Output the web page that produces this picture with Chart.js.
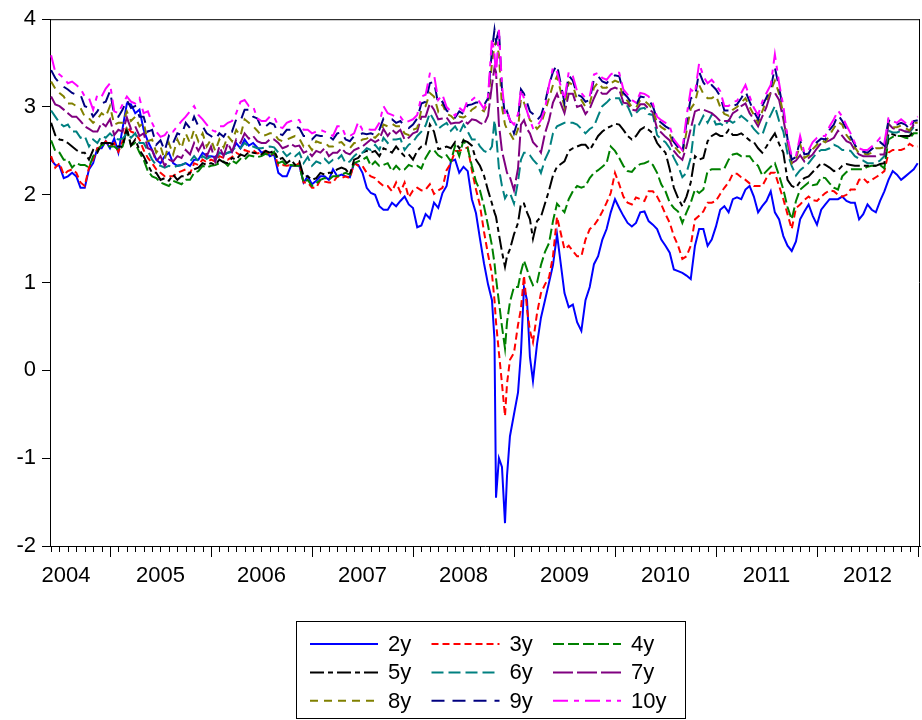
<!DOCTYPE html>
<html><head><meta charset="utf-8">
<script src="https://cdn.jsdelivr.net/npm/chart.js@4.4.1/dist/chart.umd.min.js"></script>
<style>html,body{margin:0;padding:0;background:#fff}#wrap{width:922px;height:720px}</style>
</head><body><div id="wrap"><canvas id="c" width="922" height="720"></canvas></div>
<script>
// ---------- DATA (decimal years, yields in %) ----------
const dates = [
2004.417,2004.458,2004.5,2004.542,2004.583,2004.625,2004.667,2004.708,2004.75,2004.792,2004.833,2004.875,2004.917,2004.958,
2005,2005.042,2005.083,2005.125,2005.167,2005.208,2005.25,2005.292,2005.333,2005.375,2005.417,2005.458,2005.5,2005.542,2005.583,2005.625,2005.667,2005.708,2005.75,2005.792,2005.833,2005.875,2005.917,2005.958,
2006,2006.042,2006.083,2006.125,2006.167,2006.208,2006.25,2006.292,2006.333,2006.375,2006.417,2006.458,2006.5,2006.542,2006.583,2006.625,2006.667,2006.708,2006.75,2006.792,2006.833,2006.875,2006.917,2006.958,
2007,2007.042,2007.083,2007.125,2007.167,2007.208,2007.25,2007.292,2007.333,2007.375,2007.417,2007.458,2007.5,2007.542,2007.583,2007.625,2007.667,2007.708,2007.75,2007.792,2007.833,2007.875,2007.917,2007.958,
2008,2008.042,2008.083,2008.125,2008.167,2008.208,2008.25,2008.292,2008.333,2008.375,2008.417,2008.458,2008.5,2008.542,
2008.583,
2008.624,2008.663,2008.703,2008.743,2008.782,2008.807,2008.822,2008.851,2008.881,2008.911,
2008.931,2008.96,2009,2009.04,2009.069,2009.099,2009.129,2009.158,2009.188,2009.228,
2009.267,2009.307,2009.347,2009.386,2009.426,
2009.5,2009.542,2009.583,2009.625,2009.667,2009.708,2009.75,2009.792,2009.833,2009.875,2009.917,2009.958,
2010,2010.042,2010.083,2010.125,2010.167,2010.208,2010.25,2010.292,2010.333,2010.375,2010.417,2010.458,2010.5,2010.542,2010.583,2010.625,2010.667,2010.708,2010.75,2010.792,2010.833,2010.875,2010.917,2010.958,
2011,2011.042,2011.083,2011.125,2011.167,2011.208,2011.25,2011.292,2011.333,2011.375,2011.417,2011.458,2011.5,2011.542,2011.583,2011.625,2011.667,2011.708,2011.75,2011.792,2011.833,2011.875,2011.917,2011.958,
2012,2012.042,2012.083,2012.125,2012.167,2012.208,2012.25,2012.292,2012.333,2012.375,2012.417,2012.458,2012.5,2012.542,2012.583,2012.625,2012.667,2012.708,2012.75,2012.792,2012.833,2012.875,2012.917,2012.958,
2012.997];

const y2 = [
2.40,2.34,2.33,2.19,2.21,2.25,2.21,2.08,2.08,2.29,2.36,2.53,2.53,2.61,2.53,2.64,2.48,2.76,3.04,3.03,
2.93,2.97,2.74,2.61,2.51,2.40,2.36,2.44,2.48,2.36,2.33,2.34,2.36,2.33,2.40,2.40,2.48,2.44,2.44,2.43,
2.48,2.46,2.48,2.49,2.59,2.53,2.63,2.56,2.59,2.54,2.48,2.50,2.44,2.46,2.25,2.21,2.21,2.33,2.33,2.33,
2.14,2.21,2.12,2.16,2.21,2.21,2.17,2.29,2.21,2.23,2.21,2.20,2.36,2.34,2.25,2.08,2.02,2.00,1.87,1.83,
1.83,1.91,1.87,1.93,1.98,1.89,1.85,1.63,1.65,1.78,1.73,1.91,1.85,2.02,2.10,2.38,2.40,2.25,2.32,2.27,
1.95,1.79,1.50,1.22,0.98,0.80,0.35,-1.45,-1.00,-1.10,-1.74,-1.20,-0.75,-0.50,-0.25,0.20,0.95,0.80,0.15,-0.12,0.30,0.60,0.80,1.00,1.20,1.55,
0.88,0.72,0.75,0.55,0.45,0.80,0.95,1.21,1.30,1.49,1.61,1.80,
1.95,1.85,1.76,1.68,1.64,1.68,1.80,1.81,1.70,1.66,1.61,1.49,1.42,1.34,1.15,1.13,1.11,1.08,1.04,1.42,1.61,1.61,1.42,1.49,
1.64,1.83,1.87,1.80,1.95,1.97,1.95,2.06,2.10,1.98,1.80,1.87,1.93,2.04,1.80,1.72,1.53,1.42,1.36,1.47,1.72,1.81,1.89,1.76,
1.66,1.83,1.89,1.95,1.95,1.95,1.98,1.93,1.91,1.91,1.72,1.78,1.89,1.83,1.80,1.93,2.04,2.17,2.27,2.23,2.17,2.21,2.25,2.29,
2.36];

const y3 = [
2.44,2.31,2.36,2.23,2.27,2.29,2.25,2.14,2.10,2.31,2.40,2.53,2.55,2.61,2.55,2.59,2.49,2.61,2.78,2.72,
2.70,2.63,2.51,2.42,2.36,2.29,2.25,2.21,2.21,2.21,2.25,2.27,2.29,2.24,2.36,2.34,2.40,2.37,2.40,2.38,
2.44,2.42,2.40,2.43,2.48,2.45,2.51,2.49,2.51,2.47,2.48,2.50,2.44,2.48,2.33,2.34,2.33,2.34,2.33,2.36,
2.14,2.14,2.08,2.08,2.17,2.15,2.14,2.14,2.21,2.19,2.21,2.19,2.36,2.33,2.33,2.25,2.21,2.19,2.14,2.10,
2.10,2.04,2.14,2.03,2.14,1.97,2.05,2.08,2.05,2.06,2.12,2.01,2.05,2.08,2.28,2.36,2.50,2.50,2.52,2.54,
2.28,2.06,1.88,1.58,1.32,1.10,0.80,0.55,0.20,-0.15,-0.52,-0.15,0.12,0.20,0.52,0.70,1.08,0.70,0.45,0.32,0.65,0.88,0.98,1.06,1.30,1.75,
1.38,1.42,1.36,1.30,1.30,1.49,1.61,1.65,1.72,1.81,1.91,2.02,
2.25,2.12,1.98,1.91,1.89,1.97,1.95,1.93,2.04,2.04,1.98,1.89,1.78,1.68,1.53,1.42,1.27,1.30,1.42,1.72,1.76,1.81,1.91,1.91,
1.93,2.01,2.08,2.14,2.24,2.24,2.20,2.17,2.13,2.10,2.10,2.10,2.19,2.25,2.25,2.10,1.95,1.78,1.61,1.85,1.89,1.94,1.98,1.94,
1.93,1.98,2.02,2.05,2.04,2.00,1.98,2.00,2.06,2.06,2.17,2.19,2.14,2.17,2.20,2.23,2.27,2.48,2.51,2.51,2.51,2.53,2.58,2.55,
2.55];

const y4 = [
2.62,2.50,2.48,2.40,2.40,2.31,2.36,2.34,2.34,2.31,2.44,2.50,2.57,2.56,2.55,2.55,2.51,2.55,2.74,2.56,
2.59,2.48,2.40,2.27,2.21,2.19,2.14,2.12,2.10,2.16,2.14,2.12,2.17,2.17,2.25,2.27,2.33,2.31,2.33,2.34,
2.36,2.38,2.33,2.39,2.36,2.41,2.40,2.45,2.44,2.43,2.44,2.47,2.44,2.49,2.36,2.38,2.33,2.34,2.33,2.33,
2.14,2.17,2.10,2.13,2.17,2.19,2.17,2.21,2.21,2.23,2.25,2.23,2.36,2.38,2.40,2.43,2.33,2.38,2.33,2.34,
2.36,2.27,2.33,2.28,2.29,2.34,2.32,2.33,2.30,2.42,2.50,2.51,2.45,2.42,2.45,2.38,2.56,2.44,2.62,2.53,
2.33,2.15,2.05,1.87,1.65,1.42,1.22,1.05,0.78,0.50,0.25,0.55,0.78,0.95,0.95,1.12,1.25,1.15,1.05,0.97,1.00,1.20,1.35,1.45,1.70,1.90,
1.80,1.95,2.04,2.10,2.08,2.10,2.19,2.25,2.28,2.32,2.36,2.55,
2.50,2.42,2.33,2.27,2.26,2.32,2.35,2.36,2.38,2.34,2.25,2.12,2.04,1.91,1.85,1.81,1.68,1.80,1.91,2.06,2.02,2.06,2.27,2.29,
2.29,2.29,2.30,2.40,2.46,2.47,2.44,2.44,2.44,2.37,2.33,2.22,2.27,2.32,2.36,2.22,2.06,1.86,1.72,1.93,2.06,2.10,2.14,2.11,
2.12,2.20,2.19,2.13,2.08,2.06,2.21,2.26,2.29,2.29,2.29,2.29,2.32,2.33,2.33,2.34,2.30,2.63,2.66,2.67,2.67,2.65,2.64,2.70,
2.70];

const y5 = [
2.82,2.68,2.63,2.62,2.59,2.55,2.51,2.48,2.48,2.40,2.51,2.48,2.59,2.59,2.59,2.57,2.55,2.55,2.76,2.56,
2.63,2.51,2.44,2.34,2.25,2.25,2.17,2.19,2.16,2.23,2.17,2.21,2.21,2.25,2.29,2.31,2.36,2.34,2.36,2.34,
2.40,2.37,2.36,2.42,2.40,2.46,2.44,2.49,2.48,2.47,2.46,2.50,2.48,2.50,2.40,2.42,2.36,2.40,2.34,2.38,
2.21,2.21,2.17,2.19,2.25,2.23,2.25,2.25,2.29,2.31,2.29,2.23,2.40,2.42,2.48,2.50,2.48,2.50,2.44,2.53,
2.51,2.48,2.55,2.49,2.44,2.46,2.40,2.50,2.55,2.57,2.80,2.72,2.52,2.53,2.55,2.53,2.60,2.53,2.62,2.60,
2.56,2.40,2.33,2.22,2.05,1.90,1.80,1.75,1.55,1.35,1.18,1.30,1.38,1.55,1.68,1.90,1.90,1.80,1.72,1.50,1.70,1.75,1.90,2.05,2.22,2.32,
2.38,2.50,2.53,2.55,2.57,2.57,2.51,2.59,2.67,2.72,2.76,2.78,
2.81,2.80,2.74,2.67,2.63,2.67,2.74,2.77,2.74,2.70,2.59,2.53,2.48,2.29,2.08,1.96,1.87,1.98,2.14,2.44,2.40,2.42,2.61,2.67,
2.70,2.67,2.67,2.74,2.68,2.68,2.70,2.66,2.62,2.60,2.53,2.48,2.55,2.63,2.70,2.58,2.48,2.17,2.10,2.08,2.15,2.19,2.21,2.26,
2.31,2.36,2.34,2.31,2.27,2.28,2.33,2.35,2.34,2.33,2.33,2.33,2.33,2.33,2.33,2.35,2.36,2.70,2.69,2.67,2.67,2.67,2.67,2.73,
2.74];

const y6 = [
2.96,2.89,2.82,2.78,2.80,2.72,2.72,2.65,2.67,2.55,2.63,2.59,2.67,2.65,2.70,2.65,2.63,2.64,2.70,2.65,
2.70,2.59,2.59,2.50,2.40,2.34,2.33,2.31,2.33,2.31,2.33,2.34,2.36,2.38,2.44,2.38,2.44,2.41,2.44,2.39,
2.48,2.45,2.48,2.50,2.55,2.53,2.59,2.55,2.55,2.53,2.53,2.54,2.55,2.54,2.48,2.50,2.44,2.48,2.44,2.48,
2.36,2.43,2.33,2.38,2.36,2.41,2.36,2.40,2.40,2.45,2.36,2.38,2.44,2.48,2.48,2.53,2.51,2.57,2.51,2.65,
2.59,2.63,2.63,2.64,2.51,2.57,2.60,2.67,2.72,2.79,2.93,2.85,2.75,2.79,2.82,2.73,2.78,2.70,2.80,2.72,
2.63,2.63,2.55,2.50,2.48,2.55,2.85,2.70,2.30,2.10,1.96,2.00,2.02,1.90,2.15,2.40,2.48,2.48,2.45,2.40,2.35,2.25,2.40,2.50,2.70,2.78,
2.82,2.82,2.82,2.80,2.75,2.70,2.75,2.78,2.90,3.01,3.05,3.10,
3.10,3.10,3.00,3.01,2.90,2.93,2.98,2.99,2.92,2.91,2.68,2.63,2.60,2.53,2.42,2.33,2.20,2.25,2.42,2.82,2.80,2.90,2.82,2.91,
2.80,2.81,2.78,2.85,2.82,2.85,2.90,2.86,2.82,2.75,2.70,2.68,2.82,2.91,3.01,2.84,2.72,2.47,2.33,2.22,2.28,2.32,2.36,2.42,
2.48,2.51,2.51,2.53,2.57,2.55,2.51,2.51,2.50,2.44,2.41,2.39,2.36,2.36,2.36,2.39,2.44,2.73,2.71,2.71,2.73,2.72,2.71,2.77,
2.78];

const y7 = [
3.12,3.03,3.01,2.97,2.93,2.89,2.89,2.84,2.78,2.75,2.72,2.72,2.82,2.78,2.86,2.68,2.74,2.72,2.88,2.75,
2.78,2.67,2.70,2.53,2.51,2.38,2.44,2.33,2.40,2.38,2.44,2.42,2.51,2.46,2.59,2.50,2.59,2.44,2.55,2.38,
2.55,2.44,2.59,2.49,2.63,2.59,2.70,2.64,2.67,2.61,2.59,2.59,2.63,2.63,2.59,2.53,2.55,2.58,2.55,2.56,
2.48,2.50,2.44,2.50,2.48,2.53,2.44,2.48,2.48,2.53,2.48,2.46,2.51,2.53,2.55,2.59,2.63,2.60,2.63,2.75,
2.67,2.74,2.70,2.74,2.63,2.65,2.70,2.72,2.89,2.89,3.04,2.97,2.86,2.87,2.88,2.81,2.82,2.82,2.85,2.81,
2.86,2.85,2.82,2.80,2.90,3.25,3.45,3.40,2.80,2.50,2.35,2.25,2.20,2.05,2.30,2.80,2.85,2.75,2.70,2.60,2.55,2.48,2.70,2.85,3.05,3.15,
2.93,3.15,3.15,3.00,3.02,2.92,2.98,3.10,3.20,3.15,3.15,3.20,
3.22,3.20,3.05,3.04,2.97,2.96,3.03,3.03,2.98,2.94,2.75,2.71,2.66,2.62,2.50,2.44,2.40,2.55,2.75,2.95,2.97,2.97,2.95,2.93,
2.89,2.84,2.84,2.84,2.93,2.96,3.01,3.04,2.93,2.86,2.78,2.89,3.00,3.16,3.16,3.08,2.86,2.61,2.36,2.39,2.45,2.38,2.42,2.46,
2.53,2.59,2.60,2.62,2.65,2.73,2.67,2.61,2.59,2.51,2.46,2.44,2.44,2.44,2.44,2.46,2.46,2.81,2.76,2.74,2.74,2.72,2.72,2.80,
2.82];

const y8 = [
3.29,3.21,3.16,3.12,3.04,3.04,3.01,2.99,2.89,2.87,2.82,2.86,2.93,2.89,3.01,2.80,2.82,2.82,2.95,2.84,
2.89,2.78,2.82,2.61,2.63,2.48,2.55,2.40,2.59,2.46,2.63,2.53,2.70,2.59,2.74,2.61,2.70,2.55,2.63,2.50,
2.63,2.54,2.67,2.61,2.74,2.67,2.86,2.82,2.78,2.73,2.67,2.68,2.70,2.70,2.63,2.61,2.63,2.65,2.67,2.64,
2.55,2.58,2.51,2.61,2.59,2.60,2.55,2.55,2.59,2.60,2.55,2.53,2.59,2.59,2.63,2.64,2.67,2.65,2.70,2.80,
2.78,2.81,2.78,2.78,2.70,2.68,2.74,2.76,2.97,3.01,3.16,3.12,2.95,3.03,2.92,2.90,2.85,2.89,2.88,2.91,
2.97,3.00,2.98,2.95,3.05,3.50,3.70,3.75,3.60,3.00,2.80,2.75,2.70,2.62,2.75,3.10,3.05,2.95,2.85,2.82,2.75,2.80,2.95,3.10,3.25,3.35,
3.00,3.28,3.25,3.08,3.08,3.00,3.04,3.22,3.28,3.22,3.22,3.27,
3.30,3.28,3.10,3.07,3.00,2.99,3.08,3.07,3.03,2.97,2.82,2.77,2.74,2.69,2.56,2.50,2.45,2.72,2.98,3.05,3.25,3.15,3.10,3.10,
3.13,3.00,2.92,2.90,2.97,3.00,3.05,3.10,3.00,2.91,2.82,2.95,3.07,3.18,3.30,3.15,2.92,2.62,2.36,2.41,2.58,2.42,2.45,2.52,
2.57,2.62,2.60,2.68,2.76,2.83,2.80,2.68,2.62,2.54,2.47,2.47,2.46,2.48,2.53,2.53,2.54,2.83,2.77,2.77,2.79,2.76,2.73,2.82,
2.82];

const y9 = [
3.42,3.33,3.27,3.23,3.20,3.16,3.14,3.14,3.01,2.99,2.89,2.95,3.04,3.06,3.18,2.91,2.89,2.97,3.08,2.99,
3.01,2.89,2.89,2.72,2.74,2.57,2.62,2.50,2.67,2.59,2.70,2.68,2.82,2.76,2.89,2.78,2.78,2.70,2.67,2.63,
2.70,2.66,2.74,2.72,2.86,2.84,2.97,2.97,2.89,2.87,2.76,2.78,2.82,2.80,2.70,2.68,2.74,2.74,2.78,2.76,
2.67,2.67,2.63,2.68,2.67,2.67,2.67,2.63,2.70,2.71,2.63,2.61,2.67,2.68,2.70,2.69,2.70,2.68,2.74,2.87,
2.86,2.86,2.82,2.84,2.78,2.76,2.80,2.87,3.04,3.06,3.27,3.29,3.03,3.06,2.96,2.92,2.88,2.95,2.92,3.02,
3.03,3.05,3.05,3.02,3.10,3.65,3.88,3.75,3.88,3.20,2.90,2.95,2.85,2.70,2.85,3.20,3.15,3.05,2.95,2.92,2.85,2.90,3.05,3.25,3.40,3.48,
3.05,3.36,3.30,3.14,3.12,3.06,3.08,3.32,3.35,3.29,3.27,3.33,
3.36,3.35,3.16,3.11,3.04,3.02,3.12,3.11,3.08,3.01,2.86,2.82,2.78,2.75,2.60,2.54,2.48,2.82,3.10,3.12,3.40,3.28,3.22,3.25,
3.20,3.12,2.96,2.96,3.01,3.03,3.10,3.18,3.06,2.95,2.86,3.01,3.11,3.21,3.45,3.22,2.96,2.64,2.40,2.43,2.62,2.46,2.47,2.56,
2.60,2.64,2.63,2.74,2.80,2.91,2.84,2.75,2.66,2.57,2.50,2.49,2.48,2.52,2.56,2.60,2.56,2.85,2.80,2.80,2.82,2.80,2.75,2.84,
2.85];

const y10 = [
3.59,3.40,3.37,3.33,3.27,3.29,3.25,3.21,3.12,3.10,2.97,3.14,3.12,3.21,3.27,2.95,2.93,3.03,3.12,3.06,
3.04,3.10,2.93,2.95,2.82,2.72,2.66,2.68,2.74,2.72,2.78,2.84,2.89,2.95,3.01,2.91,2.86,2.80,2.74,2.72,
2.78,2.78,2.82,2.84,2.93,3.06,3.08,3.01,3.01,2.87,2.84,2.84,2.89,2.89,2.78,2.76,2.82,2.84,2.86,2.85,
2.74,2.74,2.70,2.72,2.74,2.72,2.70,2.67,2.78,2.78,2.67,2.67,2.70,2.83,2.74,2.75,2.74,2.74,2.82,3.01,
2.93,2.91,2.89,2.89,2.82,2.84,2.86,2.91,3.12,3.14,3.38,3.37,3.08,3.14,3.00,2.95,2.90,2.99,2.95,3.08,
3.08,3.12,3.05,2.98,3.12,3.78,3.60,3.35,3.88,3.25,2.92,2.95,2.85,2.80,2.92,3.20,3.10,2.95,2.85,2.76,2.78,2.85,2.98,3.25,3.45,3.40,
3.08,3.40,3.35,3.18,3.16,3.10,3.12,3.37,3.39,3.33,3.31,3.37,
3.40,3.39,3.20,3.14,3.08,3.05,3.16,3.15,3.12,3.04,2.89,2.85,2.82,2.78,2.63,2.57,2.51,2.89,3.20,3.16,3.50,3.35,3.27,3.31,
3.25,3.18,3.01,3.01,3.06,3.07,3.16,3.25,3.12,2.99,2.91,3.06,3.16,3.25,3.60,3.27,3.01,2.65,2.44,2.44,2.67,2.48,2.51,2.60,
2.65,2.67,2.67,2.78,2.86,2.96,2.89,2.79,2.70,2.59,2.53,2.51,2.51,2.55,2.59,2.65,2.59,2.87,2.84,2.82,2.86,2.82,2.78,2.86,
2.89];

const seriesLabels = ['2y','3y','4y','5y','6y','7y','8y','9y','10y'];
const yearLabels = [2004,2005,2006,2007,2008,2009,2010,2011,2012];
const yTickValues = [-2,-1,0,1,2,3,4];

// ---------- STYLE ----------
const FONT = '"Liberation Sans", Arial, sans-serif';
const colors = ['#0000FF','#FF0000','#008000','#000000','#008080','#800080','#808000','#000080','#FF00FF'];
const dashes = [[], [7,4], [11,4], [14,4,5,4], [12,5], [20,4], [8,6], [13,8], [15,6,5,6]];
const xMin = 2004.406, xMax = 2013.02;

const allSeries = [y2,y3,y4,y5,y6,y7,y8,y9,y10];
const datasets = allSeries.map((s, i) => ({
  label: seriesLabels[i],
  data: dates.map((d, j) => ({x: d, y: s[j]})),
  borderColor: colors[i],
  borderDash: dashes[i],
  borderWidth: 2,
  pointRadius: 0,
  tension: 0,
  fill: false,
  order: allSeries.length - i
}));

const framePlugin = {
  id: 'frameTicks',
  afterDraw(chart) {
    const {ctx, chartArea: a} = chart;
    const x = chart.scales.x;
    ctx.save();
    ctx.strokeStyle = '#000';
    ctx.lineWidth = 1;
    ctx.beginPath();
    ctx.moveTo(a.left, a.top + 0.5); ctx.lineTo(a.right, a.top + 0.5);
    ctx.moveTo(a.right - 0.5, a.top); ctx.lineTo(a.right - 0.5, a.bottom);
    ctx.stroke();
    const startM = Math.ceil((x.min - 2004) * 12 - 1e-6);
    const endM = Math.floor((x.max - 2004) * 12 + 1e-6);
    ctx.beginPath();
    for (let m = startM; m <= endM; m++) {
      const px = Math.round(x.getPixelForValue(2004 + m / 12)) + 0.5;
      const len = (m % 12 === 0) ? 11 : 6;
      ctx.moveTo(px, a.bottom); ctx.lineTo(px, a.bottom + len);
    }
    ctx.stroke();
    ctx.restore();
  }
};

const legendPlugin = {
  id: 'boxLegend',
  afterDraw(chart) {
    const ctx = chart.ctx;
    const ds = chart.data.datasets;
    ctx.save();
    ctx.strokeStyle = '#000';
    ctx.lineWidth = 1;
    ctx.strokeRect(296.5, 621.5, 389, 97);
    ctx.font = '22px ' + FONT;
    ctx.textBaseline = 'middle';
    ctx.textAlign = 'left';
    ctx.fillStyle = '#000';
    ds.forEach((d, i) => {
      const c = i % 3, r = Math.floor(i / 3);
      const x0 = 310 + c * 121.5, y0 = 644 + r * 28.4;
      ctx.save();
      ctx.strokeStyle = d.borderColor;
      ctx.lineWidth = 2;
      ctx.setLineDash(d.borderDash || []);
      ctx.beginPath(); ctx.moveTo(x0, y0); ctx.lineTo(x0 + 68, y0); ctx.stroke();
      ctx.restore();
      ctx.fillText(d.label, x0 + 78, y0 + 1);
    });
    ctx.restore();
  }
};

new Chart(document.getElementById('c'), {
  type: 'line',
  data: {datasets},
  plugins: [framePlugin, legendPlugin],
  options: {
    responsive: false,
    animation: false,
    devicePixelRatio: 1,
    layout: {padding: {left: 0, right: 2, top: 17, bottom: 0}},
    plugins: {legend: {display: false}, tooltip: {enabled: false}},
    scales: {
      x: {
        type: 'linear', min: xMin, max: xMax,
        afterFit: s => { s.height = 174; },
        afterBuildTicks: s => {
          s.ticks = yearLabels.map(yr => ({value: Math.max(yr + 0.5, xMin + 0.158)}));
        },
        grid: {display: false, drawTicks: false},
        border: {display: true, color: '#000', width: 1},
        ticks: {
          autoSkip: false, maxRotation: 0, minRotation: 0, padding: 17,
          color: '#000', font: {family: FONT, size: 22},
          callback: v => String(Math.floor(v))
        }
      },
      y: {
        min: -2, max: 4,
        afterFit: s => { s.width = 50; },
        afterBuildTicks: s => { s.ticks = yTickValues.map(v => ({value: v})); },
        ticks: {padding: 6, color: '#000', font: {family: FONT, size: 22}},
        grid: {drawOnChartArea: false, drawTicks: true, tickLength: 8, color: '#000', tickColor: '#000'},
        border: {display: true, color: '#000', width: 1}
      }
    }
  }
});
</script>
</body></html>
